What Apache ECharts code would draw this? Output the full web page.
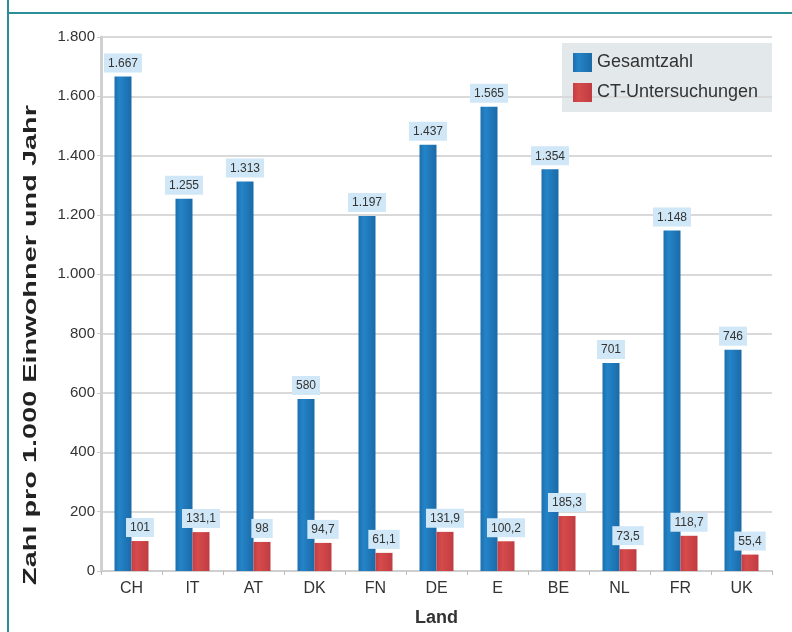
<!DOCTYPE html>
<html>
<head>
    <meta charset="utf-8">
    <title>Zahl pro 1.000 Einwohner</title>
    <script src="https://cdn.jsdelivr.net/npm/echarts@6/dist/echarts.min.js"></script>
    <style>
        body { margin: 0; background: #fff; }
    </style>
</head>
<body>
    <div id="main" style="width: 792px;height:632px;"></div>
    <script type="text/javascript">
        // Länder und Werte
        var laender = ['CH', 'IT', 'AT', 'DK', 'FN', 'DE', 'E', 'BE', 'NL', 'FR', 'UK'];
        var gesamtzahl = [1667, 1255, 1313, 580, 1197, 1437, 1565, 1354, 701, 1148, 746];
        var ctUntersuchungen = [101, 131.1, 98, 94.7, 61.1, 131.9, 100.2, 185.3, 73.5, 118.7, 55.4];

        // deutsche Zahlenschreibweise: 1.667 und 131,1
        function deFormat(v) {
            var s = String(v).split('.');
            var ganz = s[0].replace(/\B(?=(\d{3})+(?!\d))/g, '.');
            return s.length > 1 ? ganz + ',' + s[1] : ganz;
        }

        var myChart = echarts.init(document.getElementById('main'));
        var schrift = 'Liberation Sans, Arial, sans-serif';

        var labelStyle = {
            show: true,
            position: 'top',
            distance: 4,
            fontSize: 12,
            color: '#333',
            backgroundColor: '#cfe7f6',
            padding: [4, 4, 3, 4],
            formatter: function (p) { return deFormat(p.value); }
        };

        option = {
            backgroundColor: '#fff',
            textStyle: { fontFamily: schrift },
            graphic: [
                { type: 'line', shape: { x1: 8, y1: 0, x2: 8, y2: 632 }, style: { stroke: '#2a8f99', lineWidth: 2 } },
                { type: 'line', shape: { x1: 8, y1: 13, x2: 792, y2: 13 }, style: { stroke: '#2a8f99', lineWidth: 2 } },
                { type: 'rect', shape: { x: 562, y: 43, width: 210, height: 69 }, style: { fill: '#e3e9eb' }, z: 0 },
                // Achsentitel (im Original in Leserichtung gestreckt)
                {
                    type: 'text',
                    x: 31, y: 345,
                    rotation: Math.PI / 2,
                    scaleX: 1.52,
                    style: {
                        text: 'Zahl pro 1.000 Einwohner und Jahr',
                        font: 'bold 19px ' + schrift,
                        fill: '#222',
                        align: 'center',
                        verticalAlign: 'middle'
                    }
                }
            ],
            legend: {
                left: 573,
                top: 53,
                padding: 0,
                orient: 'vertical',
                itemWidth: 19,
                itemHeight: 19,
                itemGap: 11,
                icon: 'rect',
                textStyle: { fontSize: 18, color: '#333' },
                data: ['Gesamtzahl', 'CT-Untersuchungen']
            },
            grid: { left: 101, right: 20, top: 37, bottom: 61 },
            xAxis: {
                type: 'category',
                data: laender,
                name: 'Land',
                nameLocation: 'middle',
                nameGap: 38,
                nameTextStyle: { fontSize: 18, fontWeight: 'bold', color: '#333' },
                axisLine: { lineStyle: { color: '#cfcfcf', width: 2 } },
                axisTick: { show: true, length: 4, lineStyle: { color: '#bbb' } },
                axisLabel: { fontSize: 16, color: '#333', margin: 10 }
            },
            yAxis: {
                type: 'value',
                min: 0,
                max: 1800,
                interval: 200,
                axisLine: { show: true, lineStyle: { color: '#d0d0d0', width: 3 } },
                axisTick: { show: true, length: 4, lineStyle: { color: '#ccc' } },
                axisLabel: { fontSize: 15, color: '#333', margin: 6, formatter: deFormat },
                splitLine: { lineStyle: { color: '#d9d9d9', width: 2 } }
            },
            series: [
                {
                    name: 'Gesamtzahl',
                    type: 'bar',
                    barWidth: 17,
                    barGap: '0%',
                    data: gesamtzahl,
                    itemStyle: {
                        color: new echarts.graphic.LinearGradient(0, 0, 1, 0, [
                            { offset: 0, color: '#1d6fae' },
                            { offset: 0.3, color: '#2484c8' },
                            { offset: 1, color: '#1b6aa8' }
                        ])
                    },
                    label: labelStyle
                },
                {
                    name: 'CT-Untersuchungen',
                    type: 'bar',
                    barWidth: 17,
                    data: ctUntersuchungen,
                    itemStyle: {
                        color: new echarts.graphic.LinearGradient(0, 0, 1, 0, [
                            { offset: 0, color: '#c43e44' },
                            { offset: 0.3, color: '#d64b4b' },
                            { offset: 1, color: '#c03c42' }
                        ])
                    },
                    label: labelStyle
                }
            ]
        };

        myChart.setOption(option);
    </script>
</body>
</html>
